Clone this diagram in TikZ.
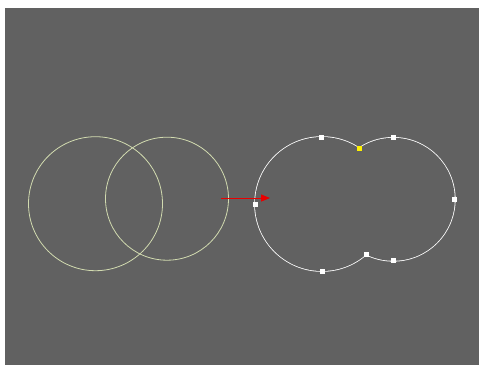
\documentclass[tikz,border=0pt]{standalone}
\usetikzlibrary{arrows.meta}

\definecolor{canvas}{HTML}{616161}
\definecolor{ringcol}{HTML}{D2DBB0}
\definecolor{arrowred}{HTML}{E80000}

\tikzset{
  ring/.style={draw=ringcol, line width=0.8pt},
  outline/.style={draw=white, line width=1.6pt},
  handle/.style={fill=white, minimum size=5pt, inner sep=0pt},
  picked/.style={handle, fill=yellow},
}

\begin{document}
\begin{tikzpicture}[x=1pt,y=-1pt]
  \useasboundingbox (0,0) rectangle (480,365);
  \fill[white] (0,0) rectangle (480,365);
  \fill[canvas] (5,8) rectangle (479,365);
  % two overlapping circles
  \coordinate (a1) at (95.5,203.7);
  \coordinate (a2) at (167,198.7);
  \draw[ring] (a1) circle[radius=67pt];
  \draw[ring] (a2) circle[radius=61.5pt];
  % union outline: thick stroke, then fill the insides
  \coordinate (u1) at (322,204);
  \coordinate (u2) at (393.3,199.3);
  \draw[outline] (u1) circle[radius=67pt] (u2) circle[radius=61.5pt];
  \fill[canvas] (u1) circle[radius=67pt] (u2) circle[radius=61.5pt];
  % arrow
  \coordinate (tail) at (221,198);
  \coordinate (tip) at (270,198);
  \draw[arrowred, line width=0.8pt, -{Triangle[length=9pt,width=7pt]}] (tail) -- (tip);
  % handles on the outline
  \node[handle] (h1) at (321.7,137) {};
  \node[handle] (h2) at (322,271) {};
  \node[handle] (h3) at (255,204) {};
  \node[handle] (h4) at (393.3,137.8) {};
  \node[handle] (h5) at (454.8,199.3) {};
  \node[handle] (h6) at (393.3,260.8) {};
  \node[handle] (h7) at (366.1,254.4) {};
  \node[picked] (h8) at (359.1,148.2) {};
\end{tikzpicture}
\end{document}
